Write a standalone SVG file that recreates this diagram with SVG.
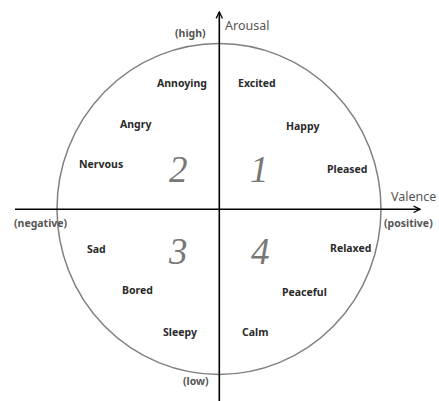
<svg xmlns="http://www.w3.org/2000/svg" width="439" height="401" viewBox="0 0 439 401">
<defs>
<marker id="arr" viewBox="0 0 10 10" refX="9" refY="5" markerWidth="8" markerHeight="8" markerUnits="userSpaceOnUse" orient="auto">
<path d="M1,1 L9,5 L1,9" fill="none" stroke="#000" stroke-width="1.6"/>
</marker>
<style>
.lab{font-family:"Noto Sans","Open Sans",sans-serif;font-weight:bold;font-size:10.5px;fill:#2a2a2a}
.end{font-family:"Noto Sans","Open Sans",sans-serif;font-weight:bold;font-size:10.5px;fill:#555}
.ax{font-family:"Noto Sans","Open Sans",sans-serif;font-size:12.5px;fill:#555}
.num{font-family:"Liberation Serif","DejaVu Serif",serif;font-style:italic;font-size:37px;fill:#777}
</style>
</defs>
<rect width="439" height="401" fill="#fff"/>
<g id="circle"><ellipse cx="219" cy="209" rx="162" ry="165.5" fill="none" stroke="#808080" stroke-width="1.5"/></g>
<g id="connectors">
<line x1="219.3" y1="401" x2="219.3" y2="12" stroke="#000" stroke-width="1.6" marker-end="url(#arr)"/>
<line x1="15" y1="209.3" x2="420" y2="209.3" stroke="#000" stroke-width="1.6" marker-end="url(#arr)"/>
</g>
<g id="axis-labels">
<text class="ax" x="225" y="30">Arousal</text>
<text class="ax" x="391" y="201">Valence</text>
<text class="end" x="175" y="37">(high)</text>
<text class="end" x="183" y="385">(low)</text>
<text class="end" x="14" y="227">(negative)</text>
<text class="end" x="384" y="227">(positive)</text>
</g>
<g id="quadrants">
<text class="num" x="169" y="182">2</text>
<text class="num" x="250" y="182">1</text>
<text class="num" x="169" y="264">3</text>
<text class="num" x="251" y="264">4</text>
</g>
<g id="emotions">
<text class="lab" x="157" y="87">Annoying</text>
<text class="lab" x="238" y="87">Excited</text>
<text class="lab" x="120" y="128">Angry</text>
<text class="lab" x="286" y="130">Happy</text>
<text class="lab" x="79" y="168">Nervous</text>
<text class="lab" x="327" y="173">Pleased</text>
<text class="lab" x="87" y="253">Sad</text>
<text class="lab" x="330" y="252">Relaxed</text>
<text class="lab" x="122" y="294">Bored</text>
<text class="lab" x="282" y="296">Peaceful</text>
<text class="lab" x="163" y="336">Sleepy</text>
<text class="lab" x="242" y="336">Calm</text>
</g>
</svg>
